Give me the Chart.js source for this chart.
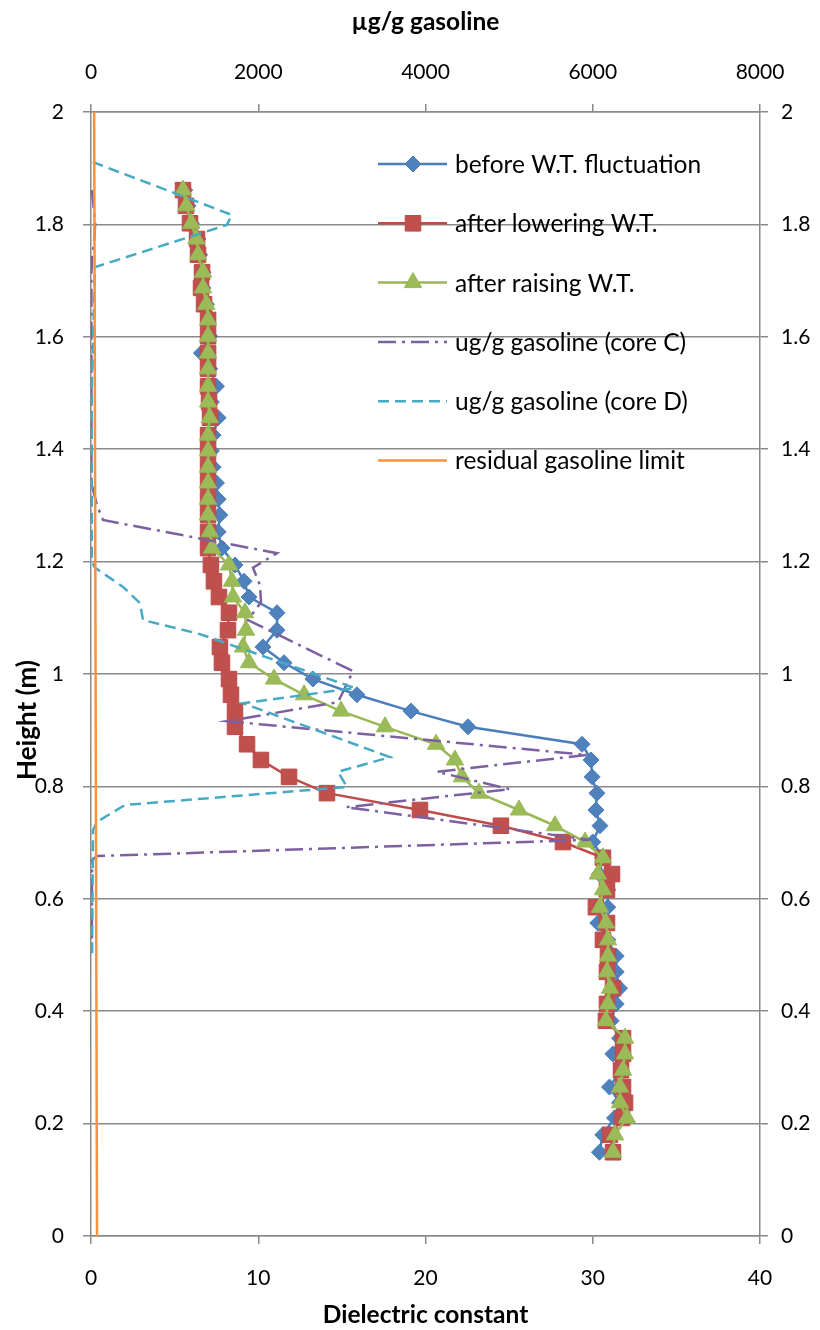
<!DOCTYPE html>
<html>
<head>
<meta charset="utf-8">
<title>Dielectric constant and gasoline profile</title>
<script src="https://cdn.jsdelivr.net/npm/chart.js@4.4.0/dist/chart.umd.min.js"></script>
<style>
	html, body { margin: 0; padding: 0; background: #fff; }
</style>
</head>
<body>
<canvas id="profile_chart" width="820" height="1330"></canvas>
<script>
// Probe heights (m), shared by the three dielectric profiles.
const heights = [
	1.861, 1.833, 1.802, 1.774, 1.746, 1.715, 1.687, 1.658, 1.630, 1.601,
	1.571, 1.543, 1.512, 1.484, 1.456, 1.425, 1.397, 1.368, 1.340, 1.311,
	1.283, 1.253, 1.224, 1.194, 1.165, 1.137, 1.109, 1.078, 1.048, 1.020,
	0.991, 0.963, 0.934, 0.906, 0.875, 0.847, 0.817, 0.788, 0.758, 0.730,
	0.701, 0.673, 0.644, 0.616, 0.585, 0.557, 0.527, 0.498, 0.470, 0.441,
	0.413, 0.383, 0.352, 0.324, 0.295, 0.265, 0.237, 0.210, 0.180, 0.149
];

// Dielectric constant profiles.
const beforeFluctuation = [
	5.6, 5.8, 6.0, 6.4, 6.5, 6.7, 6.7, 6.9, 7.0, 7.1,
	6.6, 7.1, 7.5, 7.2, 7.6, 7.3, 7.2, 7.3, 7.5, 7.6,
	7.7, 7.6, 7.83, 8.61, 9.15, 9.45, 11.12, 11.12, 10.28, 11.54,
	13.27, 15.90, 19.13, 22.54, 29.36, 29.90, 29.96, 30.25, 30.19, 30.43,
	30.0, 30.6, 30.4, 30.9, 30.9, 30.3, 30.9, 31.4, 31.4, 31.6,
	31.4, 31.1, 31.6, 31.2, 31.7, 31.0, 31.6, 31.3, 30.6, 30.4
];
const afterLowering = [
	5.50, 5.68, 5.92, 6.34, 6.40, 6.64, 6.58, 6.76, 7.00, 7.00,
	7.00, 7.00, 7.00, 7.06, 7.12, 7.00, 7.00, 7.00, 7.00, 7.00,
	7.00, 7.00, 7.00, 7.17, 7.35, 7.65, 8.25, 8.19, 7.71, 7.83,
	8.25, 8.37, 8.61, 8.61, 9.33, 10.16, 11.84, 14.11, 19.67, 24.51,
	28.22, 30.61, 31.15, 30.85, 30.19, 30.85, 30.61, 30.91, 30.85, 31.21,
	30.85, 30.79, 31.81, 31.81, 31.69, 31.81, 31.93, 31.75, 31.03, 31.21
];
const afterRaising = [
	5.5, 5.7, 6.0, 6.3, 6.4, 6.7, 6.7, 6.9, 7.0, 7.0,
	7.0, 7.0, 7.0, 7.0, 7.1, 7.0, 7.0, 7.0, 7.0, 7.0,
	7.0, 7.1, 7.23, 8.25, 8.43, 8.49, 9.21, 9.27, 9.09, 9.45,
	10.94, 12.74, 14.95, 17.58, 20.63, 21.76, 22.18, 23.2, 25.59, 27.74,
	29.54, 30.61, 30.31, 30.61, 30.43, 30.79, 30.91, 30.91, 30.85, 31.03,
	30.91, 30.79, 31.93, 31.93, 31.81, 31.63, 31.63, 32.05, 31.33, 31.21
];

// Gasoline content of the cores (ug/g) against height (m).
const coreCHeights = [1.861, 1.833, 1.802, 1.774, 1.746, 1.715, 1.340, 1.301, 1.274, 1.215,
	1.189, 1.158, 1.128, 1.096, 1.005, 0.950, 0.916, 0.856, 0.826, 0.795,
	0.763, 0.705, 0.676, 0.669, 0.504];
const coreCValues = [10, 30, 50, 40, 15, 5, 5, 70, 143, 2224,
	1937, 2021, 2033, 1877, 3133, 2954, 1626, 5931, 4137, 5010,
	3049, 5967, 72, 12, 10];
const coreDHeights = [1.911, 1.817, 1.799, 1.724, 1.500, 1.200, 1.189, 1.155, 1.126, 1.096,
	1.071, 0.975, 0.948, 0.852, 0.826, 0.799, 0.767, 0.737, 0.722, 0.495];
const coreDValues = [20, 1683, 1624, 48, 8, 10, 48, 383, 586, 622,
	1303, 3157, 1818, 3575, 2954, 3061, 407, 72, 24, 12];

// Residual gasoline limit (ug/g).
const limitHeights = [0, 2];
const limitValues = [72, 38];

// Axis ticks.
const dielectricTicks = [0, 10, 20, 30, 40];
const gasolineTicks = [0, 2000, 4000, 6000, 8000];
const heightTicks = [0, 0.2, 0.4, 0.6, 0.8, 1, 1.2, 1.4, 1.6, 1.8, 2];

const GRID_COLOR = '#8a8a8a';
const FONT_FAMILY = 'Lato, "Open Sans", sans-serif';

function toPoints(xs, ys) {
	return xs.map((x, i) => ({ x: x, y: ys[i] }));
}

function useTicks(values) {
	return scale => {
		scale.ticks = values.map(v => ({ value: v }));
	};
}

// Legend drawn inside the plot area, upper right.
const insideLegend = {
	id: 'insideLegend',
	afterDraw(chart) {
		const ctx = chart.ctx;
		const lineStart = 378, lineEnd = 447, markX = 413, textX = 455;
		const rowTop = 164, rowStep = 59.3;
		ctx.save();
		chart.data.datasets.forEach((ds, i) => {
			const y = rowTop + i * rowStep;
			ctx.strokeStyle = ds.borderColor;
			ctx.lineWidth = ds.borderWidth;
			ctx.setLineDash(ds.borderDash || []);
			ctx.beginPath();
			ctx.moveTo(lineStart, y);
			ctx.lineTo(lineEnd, y);
			ctx.stroke();
			ctx.setLineDash([]);
			if (ds.pointRadius > 0) {
				ctx.fillStyle = ds.pointBackgroundColor;
				ctx.strokeStyle = ds.pointBorderColor;
				ctx.lineWidth = ds.pointBorderWidth;
				Chart.helpers.drawPoint(ctx, {
					pointStyle: ds.pointStyle,
					radius: ds.pointRadius,
					borderWidth: ds.pointBorderWidth,
					rotation: 0
				}, markX, y);
			}
			ctx.fillStyle = '#000';
			ctx.font = '24.5px ' + FONT_FAMILY;
			ctx.textBaseline = 'middle';
			ctx.textAlign = 'left';
			ctx.fillText(ds.label, textX, y + 1);
		});
		ctx.restore();
	}
};

// Vertical axis title, sitting a little below the middle of the axis.
const heightTitle = {
	id: 'heightTitle',
	afterDraw(chart) {
		const ctx = chart.ctx;
		ctx.save();
		ctx.translate(28, 720);
		ctx.rotate(-Math.PI / 2);
		ctx.fillStyle = '#000';
		ctx.font = 'bold 26px ' + FONT_FAMILY;
		ctx.textAlign = 'center';
		ctx.textBaseline = 'middle';
		ctx.fillText('Height (m)', 0, 0);
		ctx.restore();
	}
};

function markerSeries(label, values, line, fill, style, radius, order) {
	return {
		label: label,
		data: toPoints(values, heights),
		xAxisID: 'x',
		yAxisID: 'y',
		showLine: true,
		borderColor: line,
		borderWidth: 2.5,
		pointStyle: style,
		pointRadius: radius,
		pointHoverRadius: radius,
		pointBackgroundColor: fill,
		pointBorderColor: line,
		pointBorderWidth: 1,
		order: order
	};
}

function lineSeries(label, values, hts, color, dash, order) {
	return {
		label: label,
		data: toPoints(values, hts),
		xAxisID: 'x2',
		yAxisID: 'y',
		showLine: true,
		borderColor: color,
		borderWidth: 2.5,
		borderDash: dash,
		pointRadius: 0,
		pointHoverRadius: 0,
		order: order
	};
}

const tickFont = { family: FONT_FAMILY, size: 21 };
const titleFont = { family: FONT_FAMILY, size: 24.5, weight: 'bold' };

new Chart(document.getElementById('profile_chart').getContext('2d'), {
	type: 'scatter',
	data: {
		datasets: [
			markerSeries('before W.T. fluctuation', beforeFluctuation, '#4A7EBB', '#4F81BD', 'rectRot', 8, 6),
			markerSeries('after lowering W.T.', afterLowering, '#BE4B48', '#C0504D', 'rect', 11, 5),
			markerSeries('after raising W.T.', afterRaising, '#98B954', '#9BBB59', 'triangle', 10, 4),
			lineSeries('ug/g gasoline (core C)', coreCValues, coreCHeights, '#7D60A0', [18, 6, 3, 6], 3),
			lineSeries('ug/g gasoline (core D)', coreDValues, coreDHeights, '#46AAC5', [11, 6], 2),
			lineSeries('residual gasoline limit', limitValues, limitHeights, '#F69240', [], 1)
		]
	},
	options: {
		responsive: false,
		animation: false,
		layout: { padding: 0 },
		plugins: {
			legend: { display: false },
			tooltip: { enabled: false }
		},
		scales: {
			x: {
				type: 'linear',
				position: 'bottom',
				min: 0,
				max: 40,
				afterBuildTicks: useTicks(dielectricTicks),
				afterFit: s => { s.height = 94; },
				grid: { drawOnChartArea: false, tickLength: 8, tickColor: GRID_COLOR, lineWidth: 1.5 },
				border: { color: GRID_COLOR, width: 1.5 },
				ticks: { font: tickFont, color: '#000', padding: 22 },
				title: { display: true, text: 'Dielectric constant', font: titleFont, color: '#000', padding: { top: 0, bottom: 0 } }
			},
			x2: {
				type: 'linear',
				position: 'top',
				min: 0,
				max: 8000,
				afterBuildTicks: useTicks(gasolineTicks),
				afterFit: s => { s.height = 112; },
				grid: { drawOnChartArea: false, tickLength: 8, tickColor: GRID_COLOR, lineWidth: 1.5 },
				border: { color: GRID_COLOR, width: 1.5 },
				ticks: { font: tickFont, color: '#000', padding: 19, callback: v => String(v) },
				title: { display: true, text: 'µg/g gasoline', font: titleFont, color: '#000', padding: { top: 7, bottom: 0 } }
			},
			y: {
				type: 'linear',
				position: 'left',
				min: 0,
				max: 2,
				afterBuildTicks: useTicks(heightTicks),
				afterFit: s => { s.width = 91; },
				grid: { color: GRID_COLOR, lineWidth: 1.5, tickLength: 8, tickColor: GRID_COLOR },
				border: { color: GRID_COLOR, width: 1.5 },
				ticks: { font: tickFont, color: '#000', padding: 19, callback: v => String(Math.round(v * 10) / 10) }
			},
			y2: {
				type: 'linear',
				position: 'right',
				min: 0,
				max: 2,
				afterBuildTicks: useTicks(heightTicks),
				afterFit: s => { s.width = 60; },
				grid: { drawOnChartArea: false, tickLength: 8, tickColor: GRID_COLOR, lineWidth: 1.5 },
				border: { color: GRID_COLOR, width: 1.5 },
				ticks: { font: tickFont, color: '#000', padding: 13, callback: v => String(Math.round(v * 10) / 10) }
			}
		}
	},
	plugins: [insideLegend, heightTitle]
});
</script>
</body>
</html>
